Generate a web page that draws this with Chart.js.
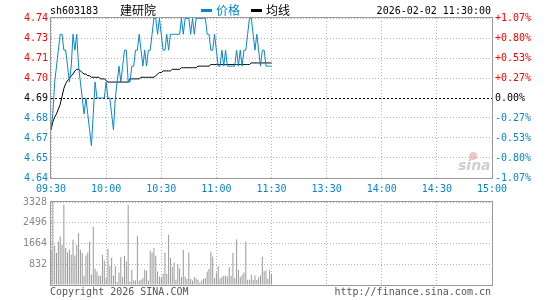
<!DOCTYPE html>
<html>
<head>
<meta charset="utf-8">
<script src="https://cdn.jsdelivr.net/npm/chart.js@4"></script>
<style>
body { margin: 0; background: #fff; }
#wrap { position: relative; width: 545px; height: 300px; font-family: "DejaVu Sans Mono", monospace; font-size: 10px; }
canvas { position: absolute; left: 0; top: 0; }
.t { position: absolute; white-space: nowrap; line-height: 12px; }
.cjk { font-family: "Noto Sans CJK SC", sans-serif; font-size: 12px; }
</style>
</head>
<body>
<div id="wrap">
  <canvas id="volChart" width="545" height="300"></canvas>
  <div style="position:absolute;left:469px;top:152px;width:8px;height:8px;border-radius:50%;background:#f3c4c4"></div>
  <span class="t" style="left:458px;top:157px;color:#cfcfcf;font:italic bold 14px 'DejaVu Sans',sans-serif">sina</span>
  <canvas id="priceChart" width="545" height="300"></canvas>
  <span class="t" style="left:50px;top:5px;color:#000">sh603183</span>
  <span class="t cjk" style="left:120px;top:4px;color:#000">建研院</span>
  <div style="position:absolute;left:201px;top:9px;width:11px;height:3px;background:#0a84d0"></div>
  <span class="t cjk" style="left:216px;top:4px;color:#0a84d0">价格</span>
  <div style="position:absolute;left:251px;top:9px;width:11px;height:3px;background:#000"></div>
  <span class="t cjk" style="left:266px;top:4px;color:#000">均线</span>
  <span class="t" style="right:54px;top:5px;color:#000">2026-02-02 11:30:00</span>
  <span class="t" style="left:50px;top:286px;color:#555">Copyright 2026 SINA.COM</span>
  <span class="t" style="right:54px;top:286px;color:#555">http://finance.sina.com.cn</span>
</div>
<script>
// axis labels
var timeLabels = ['09:30', '10:00', '10:30', '11:00', '11:30', '13:30', '14:00', '14:30', '15:00'];
var priceLabels = ['4.64', '4.65', '4.67', '4.68', '4.69', '4.70', '4.71', '4.73', '4.74'];
var pctLabels = ['-1.07%', '-0.80%', '-0.53%', '-0.27%', '0.00%', '+0.27%', '+0.53%', '+0.80%', '+1.07%'];
var volLabels = ['', '832', '1664', '2496', '3328'];
var prevClose = 4.69;
var priceMin = 4.6398, priceMax = 4.7402;
var volMax = 3328;

// minute data, 09:30 .. 11:30
var price = [
    4.67, 4.68, 4.70, 4.71, 4.72, 4.73, 4.73, 4.72, 4.72, 4.71,
    4.70, 4.71, 4.73, 4.72, 4.73, 4.71, 4.70, 4.69, 4.68, 4.69,
    4.68, 4.67, 4.66, 4.68, 4.70, 4.69, 4.69, 4.69, 4.69, 4.69,
    4.70, 4.69, 4.69, 4.68, 4.67, 4.69, 4.70, 4.71, 4.70, 4.71,
    4.72, 4.72, 4.70, 4.70, 4.71, 4.71, 4.72, 4.72, 4.73, 4.72,
    4.71, 4.72, 4.71, 4.72, 4.72, 4.73, 4.74, 4.74, 4.73, 4.74,
    4.73, 4.72, 4.72, 4.73, 4.72, 4.73, 4.73, 4.73, 4.73, 4.73,
    4.73, 4.74, 4.73, 4.74, 4.74, 4.74, 4.73, 4.74, 4.73, 4.74,
    4.74, 4.74, 4.74, 4.74, 4.74, 4.73, 4.73, 4.72, 4.72, 4.73,
    4.72, 4.71, 4.71, 4.72, 4.71, 4.72, 4.71, 4.71, 4.71, 4.71,
    4.71, 4.72, 4.71, 4.72, 4.71, 4.72, 4.72, 4.73, 4.74, 4.74,
    4.73, 4.72, 4.73, 4.72, 4.71, 4.72, 4.72, 4.71, 4.71, 4.71, 4.71
];
var avgPrice = [
    4.670, 4.675, 4.678, 4.680, 4.683, 4.686, 4.691, 4.696, 4.699, 4.701,
    4.702, 4.704, 4.705, 4.707, 4.708, 4.708, 4.707, 4.706, 4.705, 4.705,
    4.704, 4.704, 4.703, 4.703, 4.703, 4.703, 4.703, 4.702, 4.702, 4.702,
    4.701, 4.700, 4.700, 4.700, 4.700, 4.700, 4.700, 4.700, 4.700, 4.700,
    4.700, 4.700, 4.700, 4.702, 4.702, 4.702, 4.702, 4.702, 4.702, 4.703,
    4.703, 4.703, 4.703, 4.703, 4.703, 4.703, 4.703, 4.704, 4.705, 4.706,
    4.706, 4.707, 4.707, 4.707, 4.707, 4.707, 4.708, 4.708, 4.708, 4.708,
    4.708, 4.709, 4.709, 4.709, 4.709, 4.709, 4.709, 4.709, 4.709, 4.709,
    4.710, 4.710, 4.710, 4.710, 4.710, 4.710, 4.710, 4.711, 4.711, 4.711,
    4.711, 4.711, 4.711, 4.711, 4.711, 4.711, 4.711, 4.711, 4.711, 4.711,
    4.711, 4.711, 4.711, 4.711, 4.711, 4.711, 4.711, 4.711, 4.711, 4.712,
    4.712, 4.712, 4.712, 4.712, 4.712, 4.712, 4.712, 4.712, 4.712, 4.712, 4.712
];
var volume = [
    1410, 3328, 1570, 1280, 1745, 1940, 1610, 3210, 1480, 1300,
    1410, 1210, 1810, 1185, 1610, 2075, 1410, 1280, 370, 1185,
    1300, 1745, 410, 2340, 650, 545, 370, 370, 1210, 985,
    280, 1450, 770, 1090, 370, 770, 120, 505, 1120, 320,
    1170, 945, 3210, 145, 610, 185, 185, 1970, 185, 210,
    280, 610, 570, 185, 1385, 1300, 1480, 1170, 545, 345,
    280, 450, 1300, 450, 2010, 1080, 720, 905, 210, 850,
    665, 320, 1410, 345, 240, 1300, 240, 185, 320, 265,
    210, 105, 185, 240, 280, 545, 640, 1345, 1145, 280,
    505, 770, 265, 320, 370, 370, 345, 720, 370, 1280,
    280, 1835, 610, 320, 410, 505, 1745, 212, 212, 425,
    200, 385, 200, 300, 385, 1130, 555, 580, 250, 610, 450
];

var BLUE = '#0a84d0';
var GRID = '#b4b4b4';
var monoFont = { family: 'DejaVu Sans Mono', size: 10 };

// grey frame round the plot area
var frame = {
    id: 'frame',
    afterDraw: function(chart) {
        var a = chart.chartArea, ctx = chart.ctx;
        ctx.save();
        ctx.strokeStyle = '#999';
        ctx.lineWidth = 1;
        ctx.strokeRect(Math.round(a.left) - 0.5, Math.round(a.top) - 0.5,
            Math.round(a.right - a.left) + 1, Math.round(a.bottom - a.top) + 1);
        ctx.restore();
    }
};

function priceTicks(scale) {
    scale.ticks = priceLabels.map(function(_, i) {
        return { value: priceMin + i * (priceMax - priceMin) / 8 };
    });
}
function timeTicks(scale) {
    scale.ticks = timeLabels.map(function(_, i) { return { value: i * 30 }; });
}
function labelColor(ctx) {
    if (ctx.index < 4) return BLUE;
    if (ctx.index === 4) return '#000';
    return '#f00';
}

new Chart(document.getElementById('priceChart'), {
    type: 'line',
    data: {
        datasets: [{
            label: '价格',
            data: price.map(function(v, i) { return { x: i, y: v }; }),
            borderColor: BLUE,
            borderWidth: 1,
            pointRadius: 0,
            tension: 0
        }, {
            label: '均线',
            data: avgPrice.map(function(v, i) { return { x: i, y: v }; }),
            borderColor: '#000',
            borderWidth: 1,
            pointRadius: 0,
            tension: 0
        }]
    },
    options: {
        responsive: false,
        animation: false,
        events: [],
        layout: { padding: { top: 18, left: 0, right: 0, bottom: 0 } },
        plugins: { legend: { display: false }, tooltip: { enabled: false } },
        scales: {
            x: {
                type: 'linear', min: 0, max: 240,
                afterBuildTicks: timeTicks,
                afterFit: function(s) { s.height = 122; },
                ticks: {
                    autoSkip: false, maxRotation: 0, padding: 5, color: BLUE, font: monoFont,
                    callback: function(v, i) { return timeLabels[i]; }
                },
                grid: { color: GRID, drawTicks: false },
                border: { display: false, dash: [1, 2] }
            },
            y: {
                position: 'left', min: priceMin, max: priceMax,
                afterBuildTicks: priceTicks,
                afterFit: function(s) { s.width = 51; },
                ticks: {
                    padding: 3, color: labelColor, font: monoFont,
                    callback: function(v, i) { return priceLabels[i]; }
                },
                grid: {
                    drawTicks: false,
                    color: function(ctx) { return ctx.index === 4 ? '#000' : GRID; }
                },
                border: {
                    display: false,
                    dash: function(ctx) { return ctx.index === 4 ? [2, 2] : [1, 2]; }
                }
            },
            y2: {
                position: 'right', min: priceMin, max: priceMax,
                afterBuildTicks: priceTicks,
                afterFit: function(s) { s.width = 53; },
                ticks: {
                    padding: 3, color: labelColor, font: monoFont,
                    callback: function(v, i) { return pctLabels[i]; }
                },
                grid: { drawOnChartArea: false, drawTicks: false },
                border: { display: false }
            }
        }
    },
    plugins: [frame]
});

new Chart(document.getElementById('volChart'), {
    type: 'bar',
    data: {
        datasets: [{
            label: '成交量',
            data: volume.map(function(v, i) { return { x: i, y: v }; }),
            backgroundColor: '#999',
            barThickness: 1,
            inflateAmount: 0
        }]
    },
    options: {
        responsive: false,
        animation: false,
        events: [],
        layout: { padding: { top: 202, left: 0, right: 53, bottom: 0 } },
        plugins: { legend: { display: false }, tooltip: { enabled: false } },
        scales: {
            x: {
                type: 'linear', min: 0, max: 240, offset: false,
                afterBuildTicks: timeTicks,
                afterFit: function(s) { s.height = 15; },
                ticks: { display: false },
                grid: { color: GRID, drawTicks: false, offset: false },
                border: { display: false, dash: [1, 2] }
            },
            y: {
                min: 0, max: volMax,
                afterBuildTicks: function(s) {
                    s.ticks = volLabels.map(function(_, i) { return { value: i * volMax / 4 }; });
                },
                afterFit: function(s) { s.width = 51; },
                ticks: {
                    padding: 4, color: '#888', font: monoFont,
                    callback: function(v, i) { return volLabels[i]; }
                },
                grid: { color: GRID, drawTicks: false },
                border: { display: false, dash: [1, 2] }
            }
        }
    },
    plugins: [frame]
});
</script>
</body>
</html>
